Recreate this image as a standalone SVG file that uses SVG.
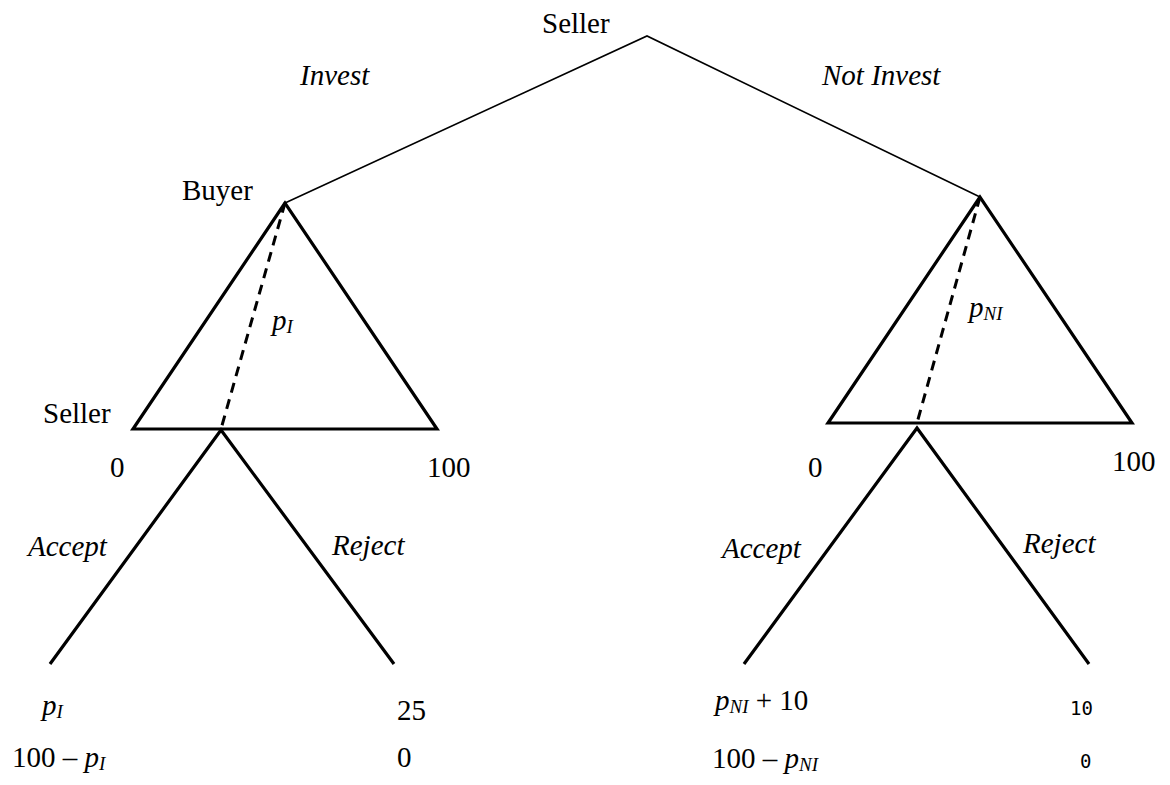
<svg xmlns="http://www.w3.org/2000/svg" width="1170" height="785" viewBox="0 0 1170 785">
<style>
text{font-family:"Liberation Serif","Times New Roman",serif;font-size:29px;fill:#000}
.i{font-style:italic}
.sub{font-size:19px;font-style:italic}
.mono{font-family:"DejaVu Sans Mono","Liberation Mono",monospace;font-size:19px}
.thin{stroke:#000;stroke-width:1.6;fill:none}
.thick{stroke:#000;stroke-width:3.2;fill:none;stroke-linejoin:miter}
.dash{stroke:#000;stroke-width:3;fill:none;stroke-dasharray:10 7}
</style>
<rect width="1170" height="785" fill="#fff"/>
<g id="connectors">
<polyline class="thin" points="285,203 647,36 980,197"/>
<polygon class="thick" points="285,203 133,429 437,429"/>
<line class="dash" x1="285" y1="203" x2="221" y2="429"/>
<polyline class="thick" points="50,664 221,430 394,664"/>
<polygon class="thick" points="980,197 828,423 1132,423"/>
<line class="dash" x1="980" y1="197" x2="917" y2="423"/>
<polyline class="thick" points="744,664 917,428 1089,664"/>
</g>
<g id="root"><text x="542" y="33">Seller</text></g>
<g id="labels-top">
<text class="i" x="300" y="85">Invest</text>
<text class="i" x="822" y="85">Not Invest</text>
</g>
<g id="buyer-left">
<text x="182" y="200">Buyer</text>
<text class="i" x="272" y="330">p<tspan class="sub" dy="3">I</tspan></text>
<text x="110" y="477">0</text>
<text x="427" y="477">100</text>
</g>
<g id="seller-left">
<text x="43" y="423">Seller</text>
<text class="i" x="28" y="556">Accept</text>
<text class="i" x="332" y="555">Reject</text>
</g>
<g id="payoff-left-accept">
<text class="i" x="42" y="715">p<tspan class="sub" dy="3">I</tspan></text>
<text x="12" y="767">100 – <tspan class="i">p</tspan><tspan class="sub" dy="3">I</tspan></text>
</g>
<g id="payoff-left-reject">
<text x="397" y="720">25</text>
<text x="397" y="767">0</text>
</g>
<g id="buyer-right">
<text class="i" x="969" y="317">p<tspan class="sub" dy="3">NI</tspan></text>
<text x="808" y="477">0</text>
<text x="1112" y="471">100</text>
</g>
<g id="seller-right">
<text class="i" x="722" y="558">Accept</text>
<text class="i" x="1023" y="553">Reject</text>
</g>
<g id="payoff-right-accept">
<text x="715" y="710"><tspan class="i">p</tspan><tspan class="sub" dy="3">NI</tspan><tspan dy="-3"> + 10</tspan></text>
<text x="712" y="768">100 – <tspan class="i">p</tspan><tspan class="sub" dy="3">NI</tspan></text>
</g>
<g id="payoff-right-reject">
<text class="mono" x="1070" y="715">10</text>
<text class="mono" x="1080" y="768">0</text>
</g>
</svg>
